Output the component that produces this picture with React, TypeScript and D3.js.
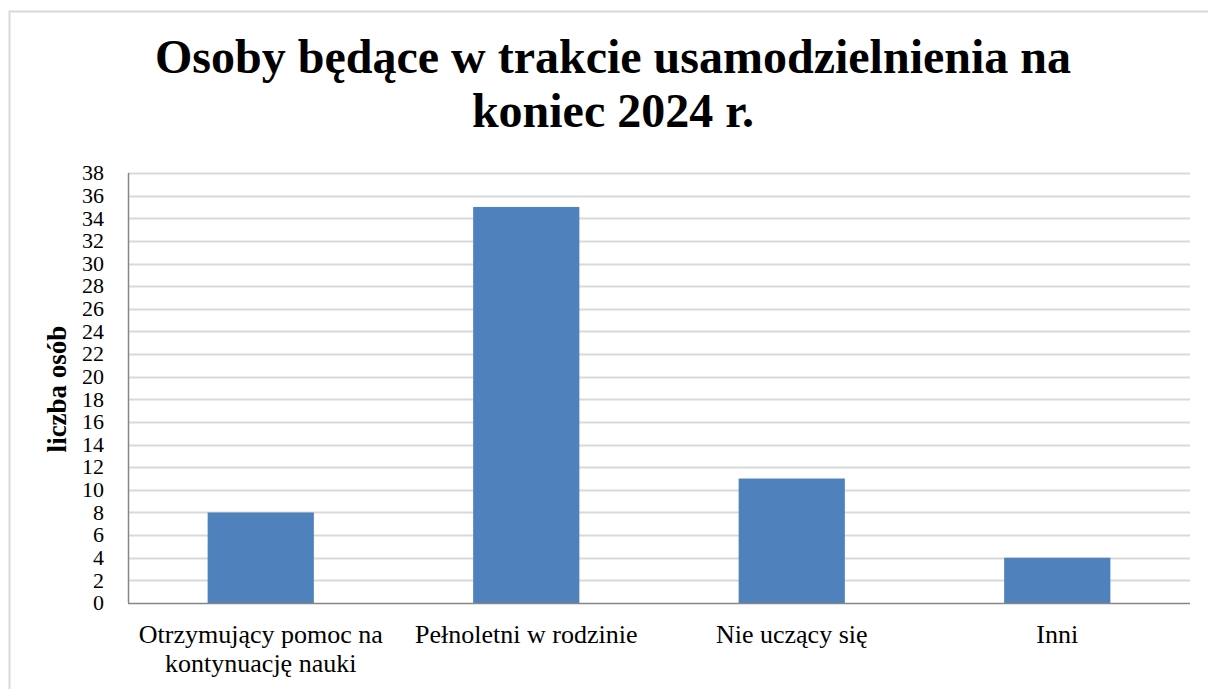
import React, { useEffect, useRef } from 'react';
import * as d3 from 'd3';

// chart data
const categories = [
    ['Otrzymujący pomoc na', 'kontynuację nauki'],
    ['Pełnoletni w rodzinie'],
    ['Nie uczący się'],
    ['Inni'],
];
const values = [8, 35, 11, 4];
const yTicks = d3.range(0, 39, 2);
const titleLines = ['Osoby będące w trakcie usamodzielnienia na', 'koniec 2024 r.'];
const yTitle = 'liczba osób';

export default function App() {
    const ref = useRef<SVGSVGElement>(null);

    useEffect(() => {
        const svgWidth = 1208, svgHeight = 689;
        const plot = { left: 128, right: 1190, top: 173, bottom: 603 };
        const font = '"Liberation Serif", "Times New Roman", serif';

        const svg = d3.select(ref.current);
        svg.selectAll('*').remove();
        svg.attr('width', svgWidth).attr('height', svgHeight);

        // chart frame
        svg.append('rect')
            .attr('x', 9.5).attr('y', 11.5)
            .attr('width', 1210).attr('height', 700)
            .attr('fill', '#fff')
            .attr('stroke', '#d9d9d9')
            .attr('stroke-width', 2);

        // title
        svg.append('text')
            .attr('text-anchor', 'middle')
            .attr('font-family', font)
            .attr('font-weight', 'bold')
            .attr('font-size', 48)
            .attr('fill', '#000')
            .selectAll('tspan')
            .data(titleLines)
            .enter()
                .append('tspan')
                .attr('x', 613)
                .attr('y', (d, i) => 73 + i * 54)
                .text(d => d);

        const scaleX = d3.scaleBand<number>()
            .domain(d3.range(values.length))
            .range([plot.left, plot.right])
            .paddingInner(0.6)
            .paddingOuter(0.3);

        const scaleY = d3.scaleLinear()
            .domain([0, 38])
            .range([plot.bottom, plot.top]);

        // gridlines
        svg.append('g')
            .selectAll('line')
            .data(yTicks.filter(t => t > 0))
            .enter()
                .append('line')
                .attr('x1', plot.left).attr('x2', plot.right)
                .attr('y1', d => Math.round(scaleY(d)) + 0.5)
                .attr('y2', d => Math.round(scaleY(d)) + 0.5)
                .attr('stroke', '#d9d9d9')
                .attr('stroke-width', 2);

        // bars
        svg.append('g')
            .selectAll('rect')
            .data(values)
            .enter()
                .append('rect')
                .attr('fill', '#4f81bd')
                .attr('x', (d, i) => scaleX(i)!)
                .attr('width', scaleX.bandwidth())
                .attr('y', d => scaleY(d))
                .attr('height', d => scaleY(0) - scaleY(d));

        // axes lines
        svg.append('line')
            .attr('x1', plot.left + 0.5).attr('x2', plot.left + 0.5)
            .attr('y1', plot.top).attr('y2', plot.bottom)
            .attr('stroke', '#868686').attr('stroke-width', 1.5);
        svg.append('line')
            .attr('x1', plot.left).attr('x2', plot.right)
            .attr('y1', plot.bottom + 0.5).attr('y2', plot.bottom + 0.5)
            .attr('stroke', '#868686').attr('stroke-width', 1.5);

        // y tick labels
        svg.append('g')
            .selectAll('text')
            .data(yTicks)
            .enter()
                .append('text')
                .attr('x', 104)
                .attr('y', d => scaleY(d))
                .attr('dy', '0.33em')
                .attr('text-anchor', 'end')
                .attr('font-family', font)
                .attr('font-size', 22)
                .attr('fill', '#000')
                .text(d => d);

        // x category labels
        const xLabels = svg.append('g')
            .selectAll('text')
            .data(categories)
            .enter()
                .append('text')
                .attr('text-anchor', 'middle')
                .attr('font-family', font)
                .attr('font-size', 26)
                .attr('fill', '#000');
        xLabels.selectAll('tspan')
            .data((d, i) => d.map(line => ({ line, i })))
            .enter()
                .append('tspan')
                .attr('x', d => scaleX(d.i)! + scaleX.bandwidth() / 2)
                .attr('y', (d, j) => 643 + j * 29)
                .text(d => d.line);

        // y axis title
        svg.append('text')
            .attr('transform', 'translate(66, 389) rotate(-90)')
            .attr('text-anchor', 'middle')
            .attr('font-family', font)
            .attr('font-weight', 'bold')
            .attr('font-size', 27)
            .attr('fill', '#000')
            .text(yTitle);
    }, []);

    return (
        <svg ref={ref} style={{ position: 'absolute', left: 0, top: 0 }}></svg>
    );
}
